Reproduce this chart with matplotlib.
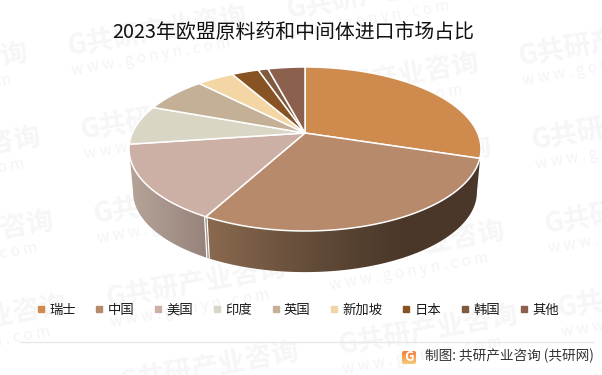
import numpy as np
import matplotlib
matplotlib.use("Agg")
import matplotlib.pyplot as plt
from matplotlib.colors import LinearSegmentedColormap
from matplotlib.lines import Line2D
from matplotlib.patches import FancyBboxPatch, Polygon

plt.rcParams['font.family'] = ['Noto Sans CJK SC', 'DejaVu Sans']

# 数据
title = "2023年欧盟原料药和中间体进口市场占比"
countries = ["瑞士", "中国", "美国", "印度", "英国", "新加坡", "日本", "韩国", "其他"]
shares = [29.9, 28.0, 14.9, 7.8, 7.1, 4.1, 3.0, 1.1, 4.1]
colors = ["#CF8B4E", "#B88A6C", "#CDB0A5", "#DAD6C5", "#C3B096",
          "#F4D6A5", "#875322", "#7E5A3F", "#8B614D"]
source = "制图: 共研产业咨询 (共研网)"

W, H = 602, 375
fig = plt.figure(figsize=(W / 100, H / 100), dpi=100)
ax = fig.add_axes([0, 0, 1, 1])


def project(angle, scale=1.0, cy=149.0):
    # 圆 -> 椭圆的透视映射, angle 从正上方顺时针
    u, v = np.sin(angle), np.cos(angle)
    w = 1 + 0.195 * v
    x = 305 + scale * 172.6 * u / w
    y = cy - scale * (82 * v + 16) / w
    return x, y


def arc(a0, a1, scale=1.0, cy=149.0):
    t = np.linspace(a0, a1, 120)
    return np.column_stack(project(t, scale, cy))


# 水印 (和原图一样, 边上的会被裁掉)
for i in range(-1, 3):
    for j in range(-1, 5):
        x0 = 68 + i * 232 + j * 13
        y0 = 47 + i * 47 + j * 84
        if x0 + 170 < 0 or x0 > W or y0 < 0 or y0 - 30 > H:
            continue
        ax.text(x0, y0, "G共研产业咨询", fontsize=19.5, fontweight="bold", color="#F6F6F6",
                rotation=10, rotation_mode="anchor", ha="left", va="center", zorder=0, clip_on=True)
        ax.text(x0 + 4, y0 + 24, "w w w . g o n y n . c o m", fontsize=11, color="#F4F4F4",
                rotation=10, rotation_mode="anchor", ha="left", va="center", zorder=0, clip_on=True)

# 侧面
fracs = np.cumsum(shares) / np.sum(shares)
edges = np.concatenate([[0], fracs]) * 2 * np.pi
split = edges[2]
sil_r = np.arccos(-0.195)
sil_l = 2 * np.pi - sil_r
bot_scale, bot_cy = 0.977, 192.0

side_left = np.vstack([arc(sil_l, split), arc(split, sil_l, bot_scale, bot_cy)])
side_right = np.vstack([arc(split, sil_r), arc(sil_r, split, bot_scale, bot_cy)])
cmap_left = LinearSegmentedColormap.from_list("l", ["#B6A499", "#96827A"])
cmap_right = LinearSegmentedColormap.from_list(
    "r", [(0, "#8A6A50"), (0.42, "#5F4937"), (0.72, "#4A3729"), (1, "#4A3729")])
grad = np.linspace(0, 1, 256).reshape(1, -1)
for poly, cmap in [(side_left, cmap_left), (side_right, cmap_right)]:
    x0, x1 = poly[:, 0].min(), poly[:, 0].max()
    im = ax.imshow(grad, cmap=cmap, extent=[x0, x1, 280, 140], aspect="auto", zorder=1)
    im.set_clip_path(Polygon(poly, transform=ax.transData))
xt, yt = project(split)
xb, yb = project(split, bot_scale, bot_cy)
for off in (-1.2, 1.2):
    ax.plot([xt + off, xb + off], [yt, yb], color="white", lw=0.9, zorder=2)

# 顶面
apex = project(0.0 * np.pi)[0], 133.0
for k, c in enumerate(colors):
    pts = arc(edges[k], edges[k + 1])
    ax.fill(np.r_[apex[0], pts[:, 0]], np.r_[apex[1], pts[:, 1]], facecolor=c,
            edgecolor="white", lw=1.1, zorder=3)

ax.set_xlim(0, W)
ax.set_ylim(H, 0)
ax.axis("off")

ax.text(293, 33, title, fontsize=14.3, color="#111111", ha="center", va="center", zorder=5)

# 图例
handles = [Line2D([], [], ls="", marker="s", ms=3.8, color=c) for c in colors]
ax.legend(handles, countries, ncol=9, loc="center", bbox_to_anchor=(298 / W, 1 - 310 / H),
          frameon=False, fontsize=9.6, handlelength=0.55, handletextpad=0.35, columnspacing=1.5,
          labelcolor="#1A1A1A", borderpad=0, borderaxespad=0)

# 底部
ax.plot([20, 593], [342, 342], color="#E8E8E8", lw=1, zorder=2)
logo = FancyBboxPatch((402, 351), 14, 13, boxstyle="round,pad=0,rounding_size=2",
                      transform=ax.transData, facecolor="none", edgecolor="none")
ax.add_patch(logo)
logo_cmap = LinearSegmentedColormap.from_list("g", ["#F47B3A", "#F9C877"])
im = ax.imshow(np.linspace(0, 1, 32).reshape(-1, 1), cmap=logo_cmap, extent=[402, 416, 364, 351],
               aspect="auto", zorder=4)
im.set_clip_path(logo)
ax.text(409, 357, "G", fontsize=9.5, fontweight="bold", color="white", ha="center", va="center", zorder=5)
ax.text(594, 356, source, fontsize=9.8, color="#333333", ha="right", va="center", zorder=5)

ax.set_xlim(0, W)
ax.set_ylim(H, 0)
fig.savefig("out.png", dpi=100)
